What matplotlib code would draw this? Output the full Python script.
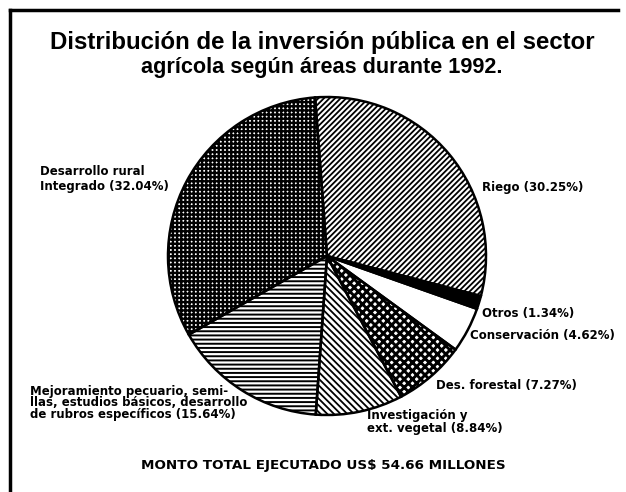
import matplotlib
matplotlib.use("Agg")
import matplotlib.pyplot as plt
from matplotlib.lines import Line2D

# Shares of public agricultural investment, 1992 (percent)
areas = [
    "Riego",
    "Otros",
    "Conservación",
    "Des. forestal",
    "Investigación y\next. vegetal",
    "Mejoramiento pecuario, semi-\nllas, estudios básicos, desarrollo\nde rubros específicos",
    "Desarrollo rural\nIntegrado",
]
shares = [30.25, 1.34, 4.62, 7.27, 8.84, 15.64, 32.04]

title_lines = [
    "Distribución de la inversión pública en el sector",
    "agrícola según áreas durante 1992.",
]
total_note = "MONTO TOTAL EJECUTADO US$ 54.66 MILLONES"

# fill style per slice: face colour, hatch, hatch linewidth
styles = [
    ("white", "//////", 1.3),
    ("black", None, 1.0),
    ("white", None, 1.0),
    ("white", "xxxx", 2.1),
    ("white", "\\\\\\\\\\", 1.3),
    ("white", "----", 1.4),
    ("white", "++++", 1.7),
]

# label anchor positions (pixel coords, y from bottom) and line spacing
label_pos = [
    (482, 304, 1.0),
    (482, 178, 1.0),
    (470, 157, 1.0),
    (436, 107, 1.0),
    (367, 70, 1.0),
    (30, 89, 0.82),
    (40, 313, 1.15),
]

W, H = 626, 492
fig = plt.figure(figsize=(W / 100, H / 100), dpi=100)
ax = fig.add_axes([0, 0, 1, 1])

center = (327, 492 - 256)
radius = 159
start = 94.3

# fill layer (no outlines), hatched in black
wedges, _ = ax.pie(shares, startangle=start, counterclock=False, center=center,
                   radius=radius, frame=True)
for w, (fc, hatch, hlw) in zip(wedges, styles):
    w.set_facecolor(fc)
    w.set_edgecolor("black")
    w.set_linewidth(0)
    if hatch:
        w.set_hatch(hatch)
        if hasattr(w, "set_hatch_linewidth"):
            w.set_hatch_linewidth(hlw)

# outline layer
ax.pie(shares, startangle=start, counterclock=False, center=center,
       radius=radius, frame=True,
       wedgeprops=dict(facecolor="none", edgecolor="black", linewidth=1.8))
ax.set_xlim(0, W)
ax.set_ylim(0, H)
ax.set_aspect("equal")
ax.axis("off")

for name, val, (x, y, ls) in zip(areas, shares, label_pos):
    ax.text(x, y, f"{name} ({val:.2f}%)", ha="left", va="center",
            family="DejaVu Sans", fontweight="bold", fontsize=8.5,
            color="black", linespacing=ls)

# two-line title
for line, y, size in zip(title_lines, (492 - 42, 492 - 67), (17.3, 15.6)):
    ax.text(322, y, line, ha="center", va="center",
            family="Liberation Sans", fontweight="bold", fontsize=size)

ax.text(323, 492 - 466, total_note, ha="center", va="center",
        family="DejaVu Sans", fontweight="bold", fontsize=9.7)

# page frame: top and left rules
fig.add_artist(Line2D([9.5 / W, 618 / W], [1 - 9.5 / H, 1 - 9.5 / H],
                      color="black", linewidth=2.5))
fig.add_artist(Line2D([9.5 / W, 9.5 / W], [0, 1 - 9.5 / H],
                      color="black", linewidth=2.5))

fig.savefig("out.png", dpi=100, facecolor="white")
